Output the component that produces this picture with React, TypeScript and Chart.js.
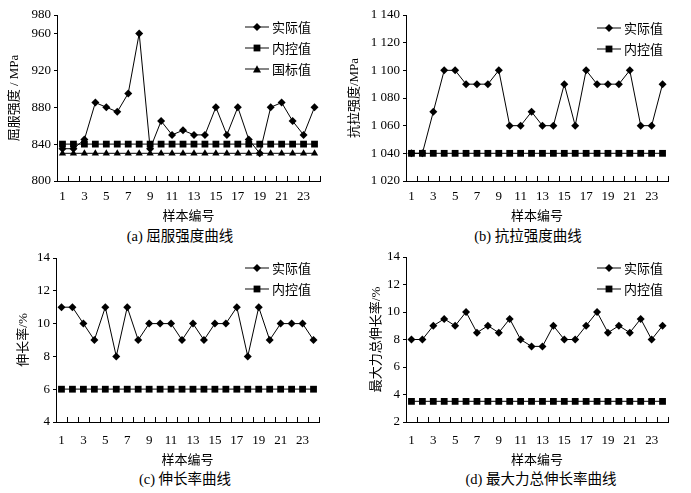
import { useEffect, useRef } from "react";
import { Chart, ChartConfiguration, Plugin, registerables } from "chart.js";

Chart.register(...registerables);

// sample numbers on the x axis
const samples = [1, 2, 3, 4, 5, 6, 7, 8, 9, 10, 11, 12, 13, 14, 15, 16, 17, 18, 19, 20, 21, 22, 23, 24];
const sampleLabels = [1, 3, 5, 7, 9, 11, 13, 15, 17, 19, 21, 23];

// (a) yield strength
const yieldActual = [835, 835, 845, 885, 880, 875, 895, 960, 835, 865, 850, 855, 850, 850, 880, 850, 880, 845, 830, 880, 885, 865, 850, 880];
const yieldInternal = [840, 840, 840, 840, 840, 840, 840, 840, 840, 840, 840, 840, 840, 840, 840, 840, 840, 840, 840, 840, 840, 840, 840, 840];
const yieldNational = [830, 830, 830, 830, 830, 830, 830, 830, 830, 830, 830, 830, 830, 830, 830, 830, 830, 830, 830, 830, 830, 830, 830, 830];
const yieldTicks = [800, 840, 880, 920, 960, 980];

// (b) tensile strength
const tensileActual = [1040, 1040, 1070, 1100, 1100, 1090, 1090, 1090, 1100, 1060, 1060, 1070, 1060, 1060, 1090, 1060, 1100, 1090, 1090, 1090, 1100, 1060, 1060, 1090];
const tensileInternal = [1040, 1040, 1040, 1040, 1040, 1040, 1040, 1040, 1040, 1040, 1040, 1040, 1040, 1040, 1040, 1040, 1040, 1040, 1040, 1040, 1040, 1040, 1040, 1040];
const tensileTicks = [1020, 1040, 1060, 1080, 1100, 1120, 1140];

// (c) elongation
const elongActual = [11, 11, 10, 9, 11, 8, 11, 9, 10, 10, 10, 9, 10, 9, 10, 10, 11, 8, 11, 9, 10, 10, 10, 9];
const elongInternal = [6, 6, 6, 6, 6, 6, 6, 6, 6, 6, 6, 6, 6, 6, 6, 6, 6, 6, 6, 6, 6, 6, 6, 6];
const elongTicks = [4, 6, 8, 10, 12, 14];

// (d) total elongation at maximum force
const agtActual = [8, 8, 9, 9.5, 9, 10, 8.5, 9, 8.5, 9.5, 8, 7.5, 7.5, 9, 8, 8, 9, 10, 8.5, 9, 8.5, 9.5, 8, 9];
const agtInternal = [3.5, 3.5, 3.5, 3.5, 3.5, 3.5, 3.5, 3.5, 3.5, 3.5, 3.5, 3.5, 3.5, 3.5, 3.5, 3.5, 3.5, 3.5, 3.5, 3.5, 3.5, 3.5, 3.5, 3.5];
const agtTicks = [2, 4, 6, 8, 10, 12, 14];

const FONT_FAMILY = '"Liberation Serif", "Noto Sans CJK SC", serif';

type Marker = "diamond" | "square" | "triangle";

interface Series {
  label: string;
  values: number[];
  marker: Marker;
}

interface Geometry {
  left: number;
  top: number;
  width: number;
  height: number;
  yWidth: number;
  padTop: number;
  padRight: number;
  xHeight: number;
  tickPad: number;
  yTitlePad: number;
  legendX: number;
  legendY: number;
  captionX: number;
  captionY: number;
}

interface PanelProps {
  series: Series[];
  ticks: number[];
  yTitle: string;
  caption: string;
  geo: Geometry;
  thousands?: boolean;
}

const pointStyles: Record<Marker, { style: "rectRot" | "rect" | "triangle"; radius: number }> = {
  diamond: { style: "rectRot", radius: 4 },
  square: { style: "rect", radius: 4.8 },
  triangle: { style: "triangle", radius: 4.2 },
};

// tick marks pointing into the plot, between the samples
const innerTicks: Plugin = {
  id: "innerTicks",
  afterDraw(chart) {
    const xs = chart.scales.x;
    const { ctx, chartArea } = chart;
    ctx.save();
    ctx.strokeStyle = "#000";
    ctx.lineWidth = 1;
    samples.forEach((s) => {
      const px = Math.round(xs.getPixelForValue(s + 0.5)) + 0.5;
      ctx.beginPath();
      ctx.moveTo(px, chartArea.bottom);
      ctx.lineTo(px, chartArea.bottom - 5);
      ctx.stroke();
    });
    ctx.restore();
  },
};

function formatTick(v: number, thousands: boolean) {
  if (thousands && v >= 1000) {
    return `${Math.floor(v / 1000)} ${String(v % 1000).padStart(3, "0")}`;
  }
  return String(v);
}

function LegendMark({ marker }: { marker: Marker }) {
  return (
    <svg width={24} height={10} style={{ display: "block" }}>
      <line x1={0} y1={5} x2={24} y2={5} stroke="#333" strokeWidth={1.2} />
      {marker === "diamond" && <path d="M12 1 L16 5 L12 9 L8 5 Z" fill="#000" />}
      {marker === "square" && <rect x={8.6} y={1.6} width={6.8} height={6.8} fill="#000" />}
      {marker === "triangle" && <path d="M12 1.2 L16 8.6 L8 8.6 Z" fill="#000" />}
    </svg>
  );
}

function Panel({ series, ticks, yTitle, caption, geo, thousands = false }: PanelProps) {
  const canvasRef = useRef<HTMLCanvasElement>(null);
  const chartRef = useRef<Chart | null>(null);

  useEffect(() => {
    if (!canvasRef.current) return;
    const ctx = canvasRef.current.getContext("2d");
    if (!ctx) return;

    if (chartRef.current) {
      chartRef.current.destroy();
    }

    const font = { family: FONT_FAMILY, size: 13 };

    const config: ChartConfiguration = {
      type: "line",
      data: {
        datasets: series.map((s, idx) => ({
          label: s.label,
          data: samples.map((x, i) => ({ x, y: s.values[i] })),
          borderColor: idx === 0 ? "#000" : "#333",
          borderWidth: idx === 0 ? 1 : 1.3,
          backgroundColor: "#000",
          pointStyle: pointStyles[s.marker].style,
          pointRadius: pointStyles[s.marker].radius,
          pointBackgroundColor: "#000",
          pointBorderColor: "#000",
          pointBorderWidth: 0,
          tension: 0,
          fill: false,
        })),
      },
      options: {
        animation: false,
        responsive: false,
        maintainAspectRatio: false,
        layout: { padding: { left: 0, top: geo.padTop, right: geo.padRight, bottom: 0 } },
        plugins: {
          legend: { display: false },
          tooltip: { enabled: false },
        },
        scales: {
          x: {
            type: "linear",
            min: 0.5,
            max: 24.5,
            afterBuildTicks: (scale: any) => {
              scale.ticks = sampleLabels.map((v) => ({ value: v }));
            },
            afterFit: (scale: any) => {
              scale.height = geo.xHeight;
            },
            ticks: {
              padding: geo.tickPad,
              maxRotation: 0,
              minRotation: 0,
              autoSkip: false,
              color: "#000",
              font,
            },
            grid: { display: true, drawOnChartArea: false, drawTicks: false },
            border: { display: true, color: "#000", width: 1 },
            title: { display: true, text: "样本编号", color: "#000", font, padding: 0 },
          },
          y: {
            type: "linear",
            min: ticks[0],
            max: ticks[ticks.length - 1],
            afterBuildTicks: (scale: any) => {
              scale.ticks = ticks.map((v) => ({ value: v }));
            },
            afterFit: (scale: any) => {
              scale.width = geo.yWidth;
            },
            ticks: {
              padding: 3,
              color: "#000",
              font,
              callback: (v: any) => formatTick(Number(v), thousands),
            },
            grid: { display: true, drawOnChartArea: false, drawTicks: true, tickLength: 3, color: "#000" },
            border: { display: true, color: "#000", width: 1 },
            title: {
              display: true,
              text: yTitle,
              color: "#000",
              font,
              padding: { top: geo.yTitlePad, bottom: 0 },
            },
          },
        },
      },
      plugins: [innerTicks],
    };

    chartRef.current = new Chart(ctx, config);

    return () => {
      if (chartRef.current) {
        chartRef.current.destroy();
        chartRef.current = null;
      }
    };
  }, [series, ticks, yTitle, geo, thousands]);

  return (
    <div
      style={{
        position: "absolute",
        left: geo.left,
        top: geo.top,
        width: geo.width,
        height: 245,
        fontFamily: FONT_FAMILY,
        color: "#000",
      }}
    >
      <canvas
        ref={canvasRef}
        width={geo.width}
        height={geo.height}
        style={{ position: "absolute", left: 0, top: 0, width: geo.width, height: geo.height }}
      />
      <div style={{ position: "absolute", left: geo.legendX, top: geo.legendY }}>
        {series.map((s) => (
          <div key={s.label} style={{ display: "flex", alignItems: "center", height: 21, fontSize: 13 }}>
            <LegendMark marker={s.marker} />
            <span style={{ marginLeft: 3 }}>{s.label}</span>
          </div>
        ))}
      </div>
      <div
        style={{
          position: "absolute",
          left: geo.captionX - 100,
          width: 200,
          top: geo.captionY - 10,
          height: 20,
          lineHeight: "20px",
          textAlign: "center",
          fontSize: 14.5,
          whiteSpace: "nowrap",
        }}
      >
        {caption}
      </div>
    </div>
  );
}

const geoA: Geometry = {
  left: 0, top: 0, width: 345, height: 224, yWidth: 57, padTop: 15, padRight: 25,
  xHeight: 43, tickPad: 8, yTitlePad: 7, legendX: 245, legendY: 16, captionX: 180, captionY: 236,
};
const geoB: Geometry = {
  left: 345, top: 0, width: 346, height: 224, yWidth: 61, padTop: 15, padRight: 23,
  xHeight: 43, tickPad: 8, yTitlePad: 2, legendX: 252, legendY: 17, captionX: 183, captionY: 236,
};
const geoC: Geometry = {
  left: 0, top: 240, width: 345, height: 228, yWidth: 56, padTop: 18, padRight: 26,
  xHeight: 46, tickPad: 11, yTitlePad: 16, legendX: 245, legendY: 17, captionX: 185, captionY: 239,
};
const geoD: Geometry = {
  left: 345, top: 240, width: 346, height: 228, yWidth: 61, padTop: 17, padRight: 23,
  xHeight: 46, tickPad: 11, yTitlePad: 24, legendX: 252, legendY: 17, captionX: 196, captionY: 239,
};

const seriesA: Series[] = [
  { label: "实际值", values: yieldActual, marker: "diamond" },
  { label: "内控值", values: yieldInternal, marker: "square" },
  { label: "国标值", values: yieldNational, marker: "triangle" },
];
const seriesB: Series[] = [
  { label: "实际值", values: tensileActual, marker: "diamond" },
  { label: "内控值", values: tensileInternal, marker: "square" },
];
const seriesC: Series[] = [
  { label: "实际值", values: elongActual, marker: "diamond" },
  { label: "内控值", values: elongInternal, marker: "square" },
];
const seriesD: Series[] = [
  { label: "实际值", values: agtActual, marker: "diamond" },
  { label: "内控值", values: agtInternal, marker: "square" },
];

export default function App() {
  return (
    <div style={{ position: "absolute", left: 0, top: 0, width: 691, height: 493, background: "#fff" }}>
      <Panel series={seriesA} ticks={yieldTicks} yTitle="屈服强度 / MPa" caption="(a) 屈服强度曲线" geo={geoA} />
      <Panel series={seriesB} ticks={tensileTicks} yTitle="抗拉强度/MPa" caption="(b) 抗拉强度曲线" geo={geoB} thousands />
      <Panel series={seriesC} ticks={elongTicks} yTitle="伸长率/%" caption="(c) 伸长率曲线" geo={geoC} />
      <Panel series={seriesD} ticks={agtTicks} yTitle="最大力总伸长率/%" caption="(d) 最大力总伸长率曲线" geo={geoD} />
    </div>
  );
}
